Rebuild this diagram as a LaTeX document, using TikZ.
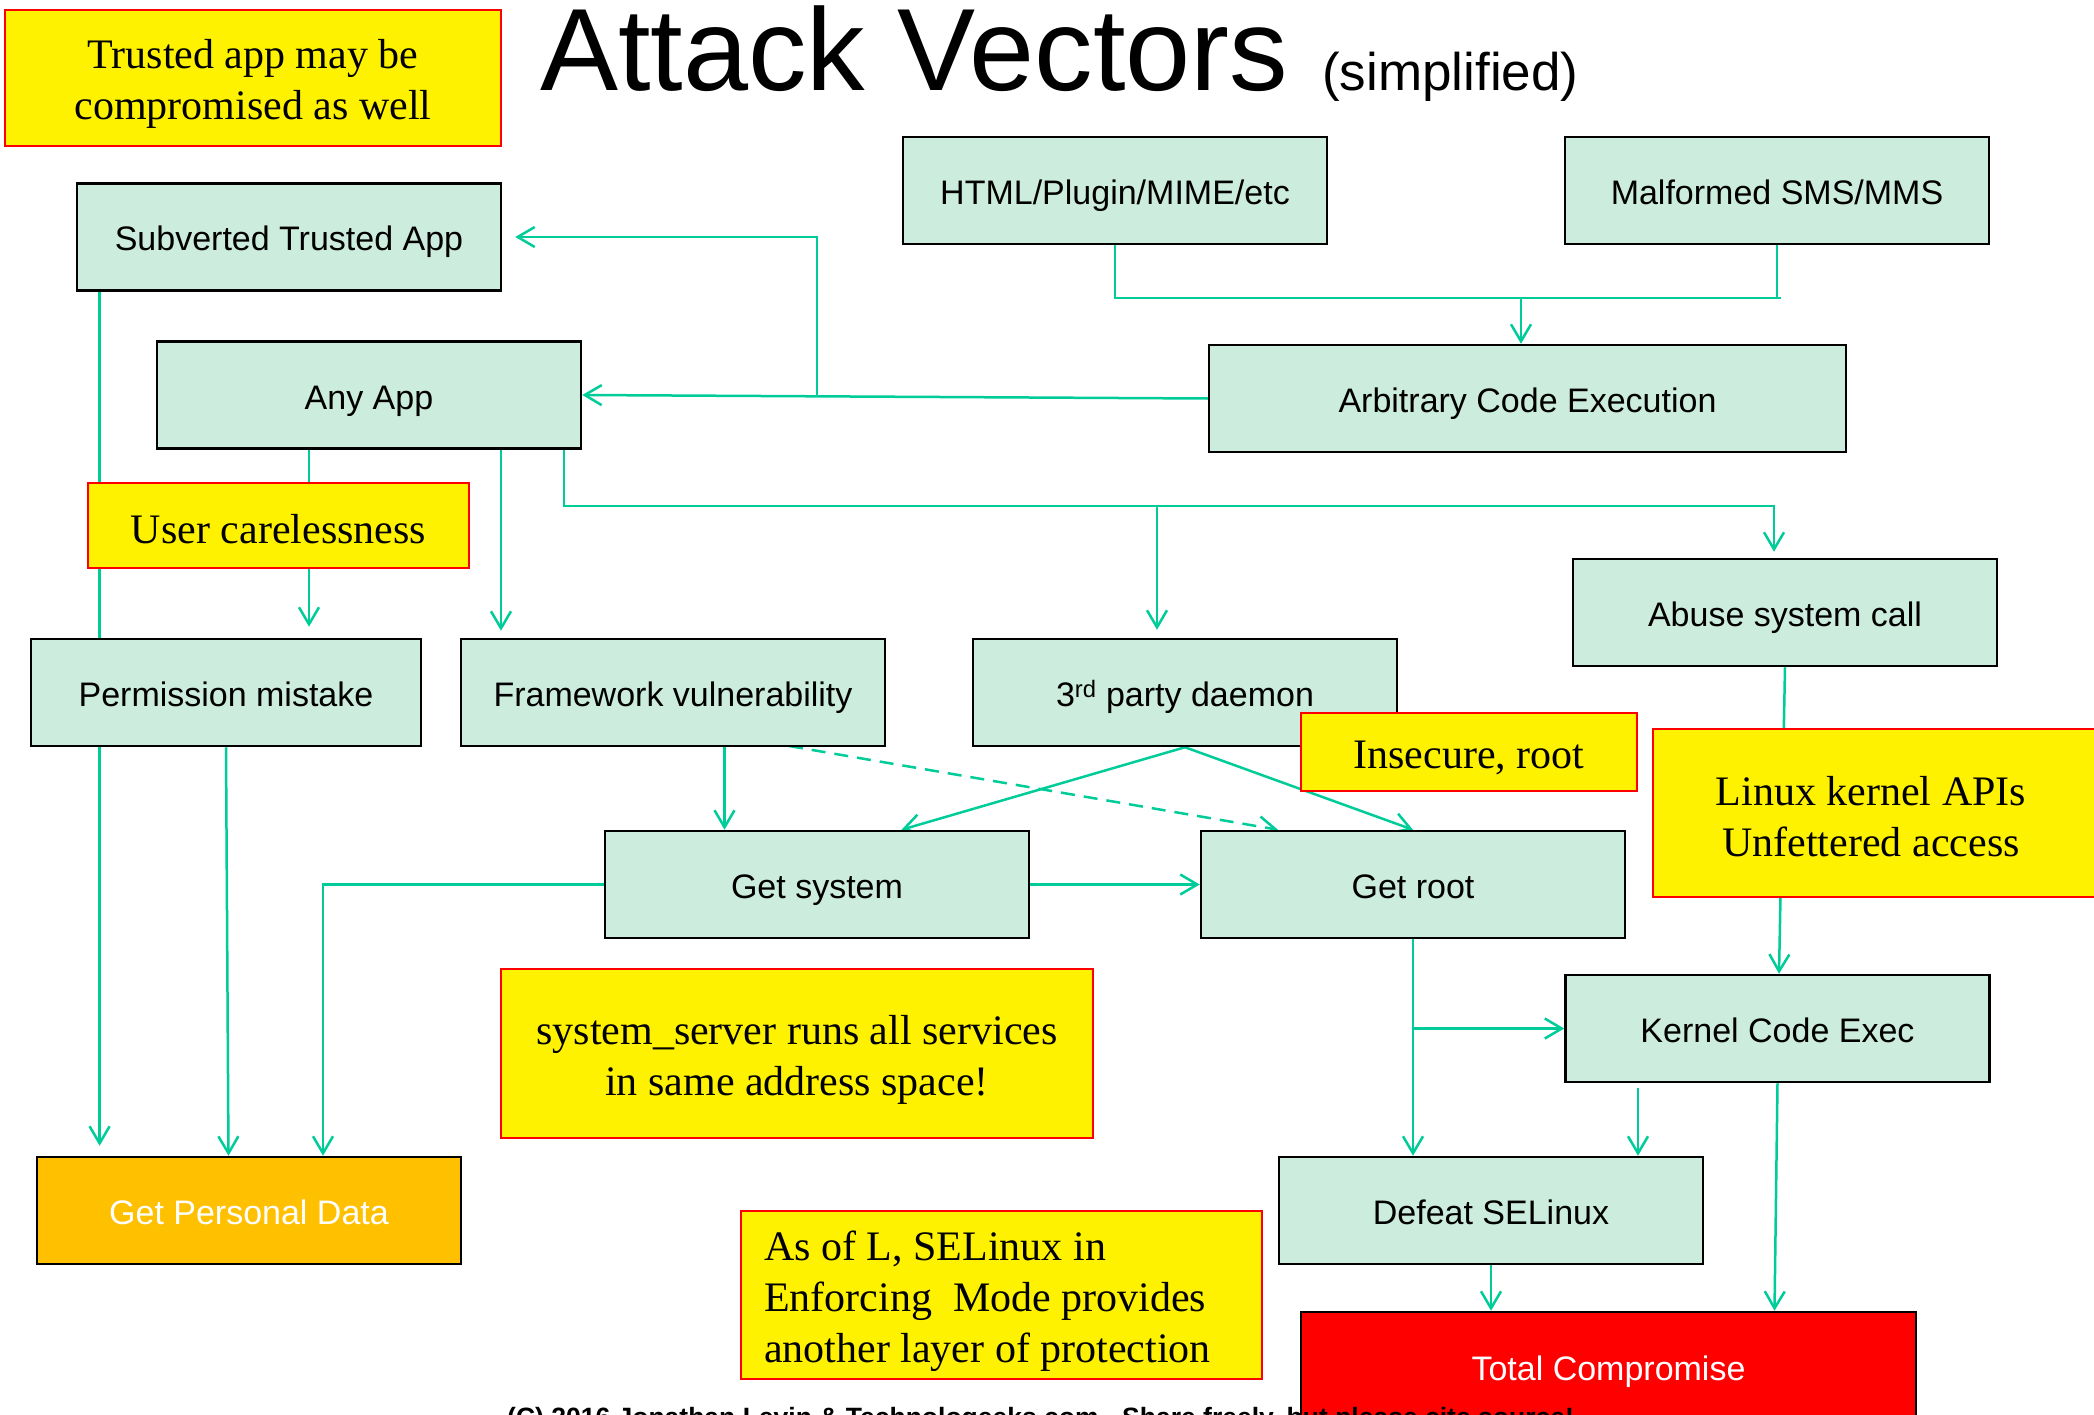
\documentclass[tikz,border=0pt]{standalone}
\usepackage{fontspec}
\setmainfont{Liberation Serif}
\setsansfont{Liberation Sans}
\usetikzlibrary{arrows.meta}
\definecolor{mint}{RGB}{204,236,221}
\definecolor{flow}{RGB}{0,204,153}
\definecolor{amber}{RGB}{255,192,0}
\pgfdeclarelayer{wires}
\pgfsetlayers{wires,main}
% remark text: lines set in a column, lowered a little, with optional room on the right
\newcommand{\remarklines}[4]{\raisebox{-#2}[\height][\depth]{\begin{tabular}{@{}#1@{}}#4\end{tabular}\hspace*{#3}}}
\tikzset{
  stepbox/.style={draw=black, line width=2.5pt, fill=mint, minimum width=424pt,
    minimum height=107pt, inner sep=0pt, text height=28pt, text depth=0pt,
    font=\sffamily\fontsize{34}{40}\selectfont},
  note/.style={draw=red, line width=2pt, fill=yellow, inner sep=0pt,
    font=\rmfamily\fontsize{42}{51}\selectfont},
  conn/.style={draw=flow, line width=2.5pt},
  arr/.style={conn, -{Straight Barb[length=17pt,width=20pt]}},
}
\begin{document}
\begin{tikzpicture}[x=1pt,y=-1pt]
\useasboundingbox (0,0) rectangle (2094,1415);

% heading
\node[anchor=base west, inner sep=0pt, font=\sffamily\fontsize{117}{120}\selectfont] (title) at (540,91) {Attack Vectors};
\node[anchor=base west, inner sep=0pt, font=\sffamily\fontsize{53}{60}\selectfont] (subtitle) at (1322,91) {(simplified)};

% attack steps
\node[stepbox] (subv) at (289,237) {Subverted Trusted App};
\node[stepbox] (anyapp) at (369,395) {Any App};
\node[stepbox] (html) at (1115,190.5) {HTML/Plugin/MIME/etc};
\node[stepbox] (mal) at (1777,190.5) {Malformed SMS/MMS};
\node[stepbox, minimum width=637pt] (ace) at (1527.5,398.5) {Arbitrary Code Execution};
\node[stepbox] (abuse) at (1785,612.5) {Abuse system call};
\node[stepbox, minimum width=390pt] (perm) at (226,692.5) {Permission mistake};
\node[stepbox] (frame) at (673,692.5) {Framework vulnerability};
\node[stepbox] (third) at (1185,692.5) {3\textsuperscript{rd} party daemon};
\node[stepbox] (getsys) at (817,884.5) {Get system};
\node[stepbox] (getroot) at (1413,884.5) {Get root};
\node[stepbox] (kernel) at (1777.5,1028.5) {Kernel Code Exec};
\node[stepbox] (defeat) at (1491,1210.5) {Defeat SELinux};
\node[stepbox, fill=amber, text=white] (personal) at (249,1210.5) {Get Personal Data};
\node[stepbox, fill=red, text=white, minimum width=615pt, minimum height=108pt] (total) at (1608.5,1366) {Total Compromise};

% remarks
\node[note, minimum width=496pt, minimum height=136pt] (trusted) at (253,78)
  {\remarklines{c}{6pt}{0pt}{Trusted app may be\\compromised as well}};
\node[note, minimum width=381pt, minimum height=85pt] (careless) at (278.5,525.5)
  {\remarklines{c}{8pt}{0pt}{User carelessness}};
\node[note, minimum width=336pt, minimum height=78pt] (insecure) at (1469,752)
  {\remarklines{c}{6pt}{0pt}{Insecure, root}};
\node[note, minimum width=460pt, minimum height=168pt] (linux) at (1883,813)
  {\remarklines{c}{8pt}{24pt}{Linux kernel APIs\\Unfettered access}};
\node[note, minimum width=592pt, minimum height=169pt] (sysserver) at (797,1053.5)
  {\remarklines{c}{6pt}{0pt}{system\_server runs all services\\in same address space!}};
\node[note, minimum width=521pt, minimum height=168pt] (asofl) at (1001.5,1295)
  {\remarklines{l}{6pt}{28pt}{As of L, SELinux in\\Enforcing~~Mode provides\\another layer of protection}};

% junction points
\coordinate (jn) at (1521,298);
\coordinate (ju) at (817,397);
\coordinate (ua) at (309,448);
\coordinate (fa) at (501,448);
\coordinate (ab) at (564,448);
\coordinate (hb) at (1157,506);
\coordinate (he) at (1774,506);
\coordinate (sv) at (99.6,290);
\coordinate (gx) at (323,884.5);
\coordinate (fg) at (724.5,746);
\coordinate (fd) at (789,746);
\coordinate (kd) at (1638,1088);

\begin{pgfonlayer}{wires}
  \draw[conn] (html.south) |- ([xshift=4pt]mal.south |- jn) (mal.south |- jn) -- (mal.south);
  \draw[arr] (jn) -- (jn |- ace.north);
  \draw[arr] (ace.west) -- (anyapp.east);
  \draw[arr, shorten >=13pt] (ju) |- (subv.east);
  \draw[arr, shorten >=11pt] (ua) -- (ua |- perm.north);
  \draw[arr, shorten >=7pt] (fa) -- (fa |- frame.north);
  \draw[arr, shorten >=6pt] (ab) |- (he) -- (he |- abuse.north);
  \draw[arr, shorten >=8pt] (hb) -- (hb |- third.north);
  \draw[conn] (sv) -- (sv |- perm.north);
  \draw[arr, shorten >=10pt] (sv |- perm.south) -- (sv |- personal.north);
  \draw[arr] (perm.south) -- ([xshift=2.5pt]perm.south |- personal.north);
  \draw[arr] (getsys.west) -- (gx) -- (gx |- personal.north);
  \draw[arr] (fg) -- (fg |- getsys.north);
  \draw[arr, dashed, dash pattern=on 14pt off 9pt] (fd) -- ([xshift=-135pt]getroot.north);
  \draw[arr] (third.south) -- ([xshift=84.5pt]getsys.north);
  \draw[arr] (third.south) -- (getroot.north);
  \draw[arr] (getsys.east) -- (getroot.west);
  \draw[arr] (getroot.south) -- (getroot.south |- defeat.north);
  \draw[arr] (getroot.south |- kernel.west) -- (kernel.west);
  \draw[arr] (abuse.south) -- ([xshift=1.5pt]kernel.north);
  \draw[arr] (kd) -- (kd |- defeat.north);
  \draw[arr] (kernel.south) -- ([xshift=-3pt]kernel.south |- total.north);
  \draw[arr] (defeat.south) -- (defeat.south |- total.north);
\end{pgfonlayer}

% credit line along the lower edge
\node[anchor=base west, inner sep=0pt, font=\sffamily\bfseries\fontsize{26.5}{30}\selectfont] (credit) at (507,1426) {(C) 2016 Jonathan Levin \& Technologeeks.com - Share freely, but please cite source!};
\end{tikzpicture}
\end{document}
